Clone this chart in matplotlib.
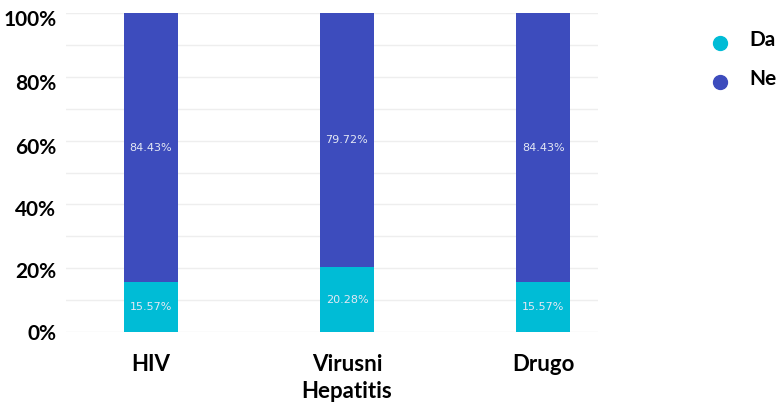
import matplotlib
matplotlib.use("Agg")
import matplotlib.pyplot as plt
import matplotlib.transforms as mtransforms
from matplotlib.lines import Line2D
import numpy as np

categories = ["HIV", "Virusni\nHepatitis", "Drugo"]
da_values = [15.57, 20.28, 15.57]
ne_values = [84.43, 79.72, 84.43]
series_names = ["Da", "Ne"]
y_ticks = [0, 20, 40, 60, 80, 100]

col_da = "#00bcd6"
col_ne = "#3d4cbd"

plt.rcParams["font.family"] = ["Lato", "DejaVu Sans"]

W, H = 780, 404
fig = plt.figure(figsize=(W / 100, H / 100), dpi=100)
ax = fig.add_axes([66 / W, (H - 332) / H, (598 - 66) / W, (332 - 13) / H])

x = np.arange(len(categories))
bw = 0.275
b1 = ax.bar(x, da_values, width=bw, color=col_da, zorder=3)
b2 = ax.bar(x, ne_values, width=bw, bottom=da_values, color=col_ne, zorder=3)

for bars, vals, bottoms in ((b1, da_values, [0] * 3), (b2, ne_values, da_values)):
    for xi, v, b in zip(x, vals, bottoms):
        ax.text(xi, b + v / 2, f"{v:.2f}%", ha="center", va="center",
                color="#e4e8f4", fontsize=8, family="DejaVu Sans", zorder=4)

ax.set_xlim(-0.4326, 2.28)
ax.set_ylim(0, 100)
ax.set_yticks(y_ticks)
ax.set_yticklabels([f"{t}%" for t in y_ticks], fontsize=15, fontweight="bold")
ax.set_yticks(np.arange(0, 101, 10), minor=True)
ax.yaxis.grid(True, which="both", color="#eeeeee", linewidth=1, zorder=0)
ax.set_xticks(x)
ax.set_xticklabels(categories, fontsize=16, fontweight="bold", linespacing=1.35)
ax.tick_params(axis="both", length=0, which="both")
ax.tick_params(axis="x", pad=16)
ax.tick_params(axis="y", pad=7)
for s in ax.spines.values():
    s.set_visible(False)

# nudge upper y labels slightly downward
for t, lab in zip(y_ticks, ax.get_yticklabels()):
    dy = -min(t, 60) / 60 * 5 / 100
    lab.set_transform(lab.get_transform() + mtransforms.ScaledTranslation(0, dy, fig.dpi_scale_trans))

# legend on the right
for name, col, yp in ((series_names[0], col_da, 43), (series_names[1], col_ne, 82)):
    fig.add_artist(Line2D([720 / W], [1 - yp / H], marker="o", markersize=10,
                          color=col, linestyle="none", transform=fig.transFigure))
    fig.text(749 / W, 1 - (yp - 3) / H, name, fontsize=15, fontweight="bold",
             va="center", ha="left")

fig.savefig("out.png", dpi=100)
